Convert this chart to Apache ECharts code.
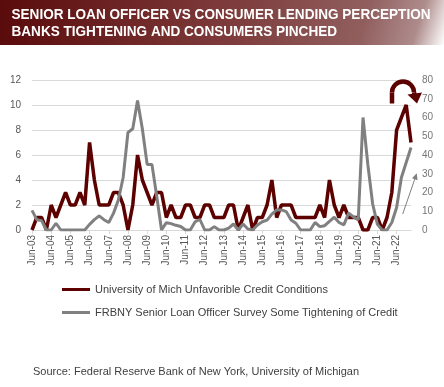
<!DOCTYPE html>
<html>
<head>
<meta charset="utf-8">
<script src="https://cdn.jsdelivr.net/npm/echarts@6/dist/echarts.min.js"></script>
<style>
html,body{margin:0;padding:0;background:#fff;}
#chart{width:444px;height:387px;}
</style>
</head>
<body>
<div id="chart"></div>
<script>
// ---- data ----
const titleLines = ['SENIOR LOAN OFFICER VS CONSUMER LENDING PERCEPTION', 'BANKS TIGHTENING AND CONSUMERS PINCHED'];
const seriesNames = ['University of Mich Unfavorible Credit Conditions', 'FRBNY Senior Loan Officer Survey Some Tightening of Credit'];
const sourceText = 'Source: Federal Reserve Bank of New York, University of Michigan';
const quarterMonths = ['Jun', 'Sep', 'Dec', 'Mar'];
const startYear = 2003;
const nQuarters = 80;
const categories = [];
for (let i = 0; i < nQuarters; i++) {
  const m = quarterMonths[i % 4];
  const y = startYear + Math.floor((i + 1) / 4);
  categories.push(m + '-' + String(y % 100).padStart(2, '0'));
}
const michUnfavorable = [
  0, 1, 1, 0, 2, 1, 2, 3, 2, 2,
  3, 2, 7, 4, 2, 2, 2, 3, 3, 2,
  0, 2, 6, 4, 3, 2, 3, 3, 1, 2,
  1, 1, 2, 2, 1, 1, 2, 2, 1, 1,
  1, 2, 2, 0, 1, 2, 0, 1, 1, 2,
  4, 1, 2, 2, 2, 1, 1, 1, 1, 1,
  2, 1, 4, 2, 1, 2, 1, 1, 1, 0,
  0, 1, 1, 0, 1, 3, 8, 9, 10, 7
];
const sloosTightening = [
  10.5, 5.5, 5, 0, 0, 3.6, 0, 0, 0, 0,
  0, 0, 3, 5.5, 7.5, 5.5, 4, 9, 16, 28,
  52, 54, 69, 54, 35, 35, 18, 0, 3.9, 3.4,
  2.5, 1.9, 0, 0, 4.4, 5.6, 0, 0, 1.8, 0,
  0, 1, 3.2, 0, 3.2, 0.5, 0, 2.7, 4.4, 5.3,
  8.5, 10.7, 10.7, 9.8, 5.3, 3.6, 0, 0, 0, 4,
  1.8, 2.3, 4.6, 6.8, 4, 2.7, 9, 7, 5.4, 60,
  35, 14, 3, 0, 0, 4, 12, 28, 36, 44
];
const leftTicks = {min: 0, max: 12, interval: 2};
const rightTicks = {min: 0, max: 80, interval: 10};

// ---- helpers ----
function measure(text, font) {
  const c = document.createElement('canvas').getContext('2d');
  c.font = font;
  return c.measureText(text).width;
}
const titleFont = 'bold 15px "Liberation Sans", Arial, sans-serif';
const titleScale = 419 / measure(titleLines[0], titleFont);

const RED = '#5c0000';
const GRAY = '#808080';

const chart = echarts.init(document.getElementById('chart'), null, {renderer: 'canvas'});
chart.setOption({
  animation: false,
  backgroundColor: '#fff',
  grid: {left: 32, right: 33, top: 80, bottom: 157, containLabel: false},
  legend: {
    orient: 'vertical',
    left: 57,
    top: 279,
    itemGap: 12,
    itemWidth: 28,
    itemHeight: 3,
    icon: 'rect',
    textStyle: {fontSize: 11, color: '#404040', fontFamily: '"Liberation Sans", Arial, sans-serif'},
    data: seriesNames
  },
  xAxis: {
    type: 'category',
    data: categories,
    boundaryGap: false,
    axisLine: {show: true, lineStyle: {color: '#d9d9d9'}},
    axisTick: {show: true, interval: 3, length: 4, lineStyle: {color: '#d9d9d9'}},
    axisLabel: {interval: 3, rotate: 90, fontSize: 10, color: '#595959', margin: 5, fontFamily: '"Liberation Sans", Arial, sans-serif'},
    splitLine: {show: false}
  },
  yAxis: [
    {
      type: 'value',
      min: leftTicks.min, max: leftTicks.max, interval: leftTicks.interval,
      axisLine: {show: false}, axisTick: {show: false},
      axisLabel: {fontSize: 10, color: '#595959', margin: 11, fontFamily: '"Liberation Sans", Arial, sans-serif'},
      splitLine: {show: true, lineStyle: {color: '#d9d9d9', width: 1}}
    },
    {
      type: 'value',
      min: rightTicks.min, max: rightTicks.max, interval: rightTicks.interval,
      axisLine: {show: false}, axisTick: {show: false},
      axisLabel: {fontSize: 10, color: '#767676', margin: 11, fontFamily: '"Liberation Sans", Arial, sans-serif'},
      splitLine: {show: false}
    }
  ],
  series: [
    {
      name: seriesNames[0], type: 'line', yAxisIndex: 0, data: michUnfavorable,
      symbol: 'none', lineStyle: {width: 3.5, color: RED}, itemStyle: {color: RED}, z: 2
    },
    {
      name: seriesNames[1], type: 'line', yAxisIndex: 1, data: sloosTightening,
      symbol: 'none', lineStyle: {width: 3, color: GRAY}, itemStyle: {color: GRAY}, z: 3
    }
  ],
  graphic: [
    {
      type: 'rect', z: 0,
      shape: {x: 0, y: 0, width: 444, height: 45},
      style: {fill: new echarts.graphic.LinearGradient(0, 0, 1, 0, [
        {offset: 0, color: '#5a0b0b'},
        {offset: 0.5, color: '#7d3a3a'},
        {offset: 1, color: '#8e5e5e'}
      ])}
    },
    {
      type: 'rect', z: 1,
      shape: {x: 0, y: 0, width: 444, height: 45},
      style: {fill: new echarts.graphic.LinearGradient(250, -20, 444, 45, [
        {offset: 0, color: 'rgba(255,255,255,0)'},
        {offset: 0.6, color: 'rgba(255,255,255,0.08)'},
        {offset: 0.85, color: 'rgba(255,255,255,0.3)'},
        {offset: 1, color: 'rgba(255,255,255,1)'}
      ], true)}
    },
    {
      type: 'text', x: 11.5, y: 15, scaleX: titleScale, z: 10,
      style: {text: titleLines[0], font: titleFont, fill: '#ffffff', verticalAlign: 'middle', align: 'left'}
    },
    {
      type: 'text', x: 11.5, y: 31.5, scaleX: titleScale, z: 10,
      style: {text: titleLines[1], font: titleFont, fill: '#ffffff', verticalAlign: 'middle', align: 'left'}
    },
    {
      type: 'text', x: 33, y: 372, z: 10,
      style: {text: sourceText, font: '11px "Liberation Sans", Arial, sans-serif', fill: '#404040', verticalAlign: 'middle', align: 'left'}
    },
    {
      type: 'line', z: 20,
      shape: {x1: 392, y1: 103.5, x2: 392, y2: 92.5},
      style: {stroke: RED, lineWidth: 4.5}
    },
    {
      type: 'arc', z: 20,
      shape: {cx: 403, cy: 92.5, r: 11, startAngle: Math.PI, endAngle: 2 * Math.PI, clockwise: true},
      style: {stroke: RED, lineWidth: 4.5, fill: null}
    },
    {
      type: 'line', z: 20,
      shape: {x1: 414, y1: 92.5, x2: 414.5, y2: 95},
      style: {stroke: RED, lineWidth: 4.5}
    },
    {
      type: 'polygon', z: 20,
      shape: {points: [[407.5, 94.5], [422, 92.5], [417, 103.5]]},
      style: {fill: RED}
    },
    {
      type: 'line', z: 20,
      shape: {x1: 402.7, y1: 214, x2: 414.8, y2: 179},
      style: {stroke: GRAY, lineWidth: 1}
    },
    {
      type: 'polygon', z: 20,
      shape: {points: [[416.7, 173.3], [417.6, 180.2], [412.0, 178.2]]},
      style: {fill: GRAY}
    }
  ]
});
</script>
</body>
</html>
